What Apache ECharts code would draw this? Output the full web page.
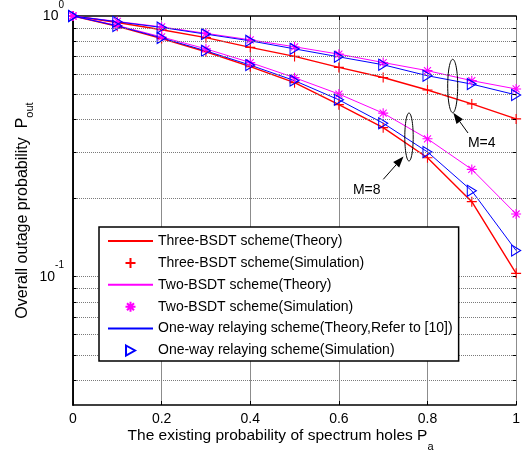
<!DOCTYPE html>
<html><head><meta charset="utf-8">
<script src="https://cdn.jsdelivr.net/npm/echarts@6/dist/echarts.min.js"></script>
<style>html,body{margin:0;padding:0;background:#fff}#c{width:523px;height:457px}</style>
</head><body><div id="c"></div>
<script>
const xValues = [0, 0.1, 0.2, 0.3, 0.4, 0.5, 0.6, 0.7, 0.8, 0.9, 1];
const threeBsdtM4 = [1, 0.944, 0.886, 0.826, 0.758, 0.700, 0.635, 0.581, 0.520, 0.460, 0.403];
const threeBsdtM8 = [1, 0.913, 0.819, 0.729, 0.639, 0.555, 0.457, 0.373, 0.286, 0.194, 0.103];
const twoBsdtM4 = [1, 0.953, 0.908, 0.858, 0.810, 0.762, 0.714, 0.663, 0.617, 0.565, 0.525];
const twoBsdtM8 = [1, 0.920, 0.831, 0.748, 0.663, 0.580, 0.502, 0.424, 0.338, 0.258, 0.174];
const oneWayM4 = [1, 0.950, 0.904, 0.852, 0.803, 0.748, 0.697, 0.650, 0.590, 0.548, 0.498];
const oneWayM8 = [1, 0.916, 0.824, 0.735, 0.648, 0.565, 0.477, 0.388, 0.301, 0.2135, 0.126];
const xTicks = [0, 0.2, 0.4, 0.6, 0.8, 1];
const yGridLines = [0.04, 0.05, 0.06, 0.07, 0.08, 0.09, 0.1, 0.2, 0.3, 0.4, 0.5, 0.6, 0.7, 0.8, 0.9];
const names = [
  'Three-BSDT scheme(Theory)',
  'Three-BSDT scheme(Simulation)',
  'Two-BSDT scheme(Theory)',
  'Two-BSDT scheme(Simulation)',
  'One-way relaying scheme(Theory,Refer to [10])',
  'One-way relaying scheme(Simulation)'
];
const FONT = "'Liberation Sans', Arial, sans-serif";
const RED = '#ff0000', MAG = '#ff00ff', BLUE = '#0000ff';
const PLUS = 'path://M5,0 L5,10 M0,5 L10,5';
const STAR = 'path://M5,0 L5,10 M0,5 L10,5 M1.5,1.5 L8.5,8.5 M8.5,1.5 L1.5,8.5';
const TRI = 'path://M0,0 L9,5 L0,10 Z';

function pairs(arr) { return xValues.map((x, i) => [x, arr[i]]); }
function theory(name, arr, color, w) {
  return { type: 'line', name, data: pairs(arr), symbol: 'none', lineStyle: { color, width: w }, itemStyle: { color }, z: 3, animation: false };
}
function sim(name, arr, color, symbol, size) {
  return { type: 'scatter', name, data: pairs(arr), symbol, symbolSize: size,
    itemStyle: { color: 'none', borderColor: color, borderWidth: 1.1, opacity: 1 }, z: 4, animation: false };
}
const tickPairs = [];
yGridLines.forEach(v => {
  tickPairs.push([{ coord: [0, v] }, { coord: [0.008, v] }]);
  tickPairs.push([{ coord: [0.992, v] }, { coord: [1, v] }]);
});

const series = [
  { type: 'line', name: '_grid', data: [], z: 1, animation: false,
    markLine: { silent: true, symbol: ['none', 'none'], label: { show: false }, animation: false,
      lineStyle: { color: '#7a7a7a', type: [1, 1], width: 1 },
      data: yGridLines.map(v => ({ yAxis: v })) } },
  { type: 'line', name: '_ticks', data: [], z: 5, animation: false,
    markLine: { silent: true, symbol: ['none', 'none'], label: { show: false }, animation: false,
      lineStyle: { color: '#000', type: 'solid', width: 1 }, data: tickPairs } },
  theory(names[0], threeBsdtM4, RED, 1.4),
  theory(names[0], threeBsdtM8, RED, 1.4),
  sim(names[1], threeBsdtM4, RED, PLUS, 10),
  sim(names[1], threeBsdtM8, RED, PLUS, 10),
  theory(names[2], twoBsdtM4, MAG, 1),
  theory(names[2], twoBsdtM8, MAG, 1),
  sim(names[3], twoBsdtM4, MAG, STAR, 10),
  sim(names[3], twoBsdtM8, MAG, STAR, 10),
  theory(names[4], oneWayM4, BLUE, 1),
  theory(names[4], oneWayM8, BLUE, 1),
  sim(names[5], oneWayM4, BLUE, TRI, [9, 11]),
  sim(names[5], oneWayM8, BLUE, TRI, [9, 11])
];

function arrow(x1, y1, x2, y2) {
  const dx = x2 - x1, dy = y2 - y1, L = Math.hypot(dx, dy), ux = dx / L, uy = dy / L;
  const hl = 11, hw = 4;
  const bx = x2 - hl * ux, by = y2 - hl * uy, nx = -uy, ny = ux;
  return [
    { type: 'line', shape: { x1, y1, x2: bx, y2: by }, style: { stroke: '#000', lineWidth: 1 }, z: 10 },
    { type: 'polygon', shape: { points: [[x2, y2], [bx + hw * nx, by + hw * ny], [bx - hw * nx, by - hw * ny]] }, style: { fill: '#000' }, z: 10 }
  ];
}

const chart = echarts.init(document.getElementById('c'), null, { renderer: 'canvas' });
chart.setOption({
  backgroundColor: '#fff',
  animation: false,
  textStyle: { fontFamily: FONT },
  grid: { left: 73, right: 3, top: 15, bottom: 51 },
  xAxis: [{
    type: 'value', min: 0, max: 1, interval: 0.2,
    name: '{n|The existing probability of spectrum holes P}{s|a}',
    nameLocation: 'middle', nameGap: 23, nameMoveOverlap: false,
    nameTextStyle: { padding: [0, 28, 0, 0], rich: {
      n: { fontSize: 15.5, fontFamily: FONT, color: '#000', lineHeight: 16, verticalAlign: 'top' },
      s: { fontSize: 11, fontFamily: FONT, color: '#000', lineHeight: 24, verticalAlign: 'bottom' } } },
    axisLine: { show: true, lineStyle: { color: '#000', width: 1.5 } },
    axisTick: { show: true, inside: true, length: 4, lineStyle: { color: '#000' } },
    axisLabel: { fontSize: 14, color: '#000', fontFamily: FONT, margin: 7,
      formatter: v => { const t = xTicks.find(k => Math.abs(k - v) < 1e-9); return t === undefined ? '' : String(t); } },
    splitLine: { show: true, lineStyle: { color: '#8c8c8c', width: 1 } }
  }, {
    type: 'value', min: 0, max: 1, interval: 0.2, position: 'top',
    axisLine: { show: true, lineStyle: { color: '#000', width: 1.5 } },
    axisTick: { show: true, inside: true, length: 4, lineStyle: { color: '#000' } },
    axisLabel: { show: false }, splitLine: { show: false }
  }],
  yAxis: [{
    type: 'log', logBase: 10, min: 0.0322, max: 1,
    name: '{n|Overall outage probability  P}{s|out}',
    nameLocation: 'middle', nameGap: 37.5, nameRotate: 90, nameMoveOverlap: false,
    nameTextStyle: { rich: {
      n: { fontSize: 16, fontFamily: FONT, color: '#000', lineHeight: 16, verticalAlign: 'top' },
      s: { fontSize: 11, fontFamily: FONT, color: '#000', lineHeight: 21, verticalAlign: 'bottom' } } },
    axisLine: { show: true, lineStyle: { color: '#000', width: 1.5 } },
    axisTick: { show: false },
    axisLabel: { margin: 9, fontSize: 14, color: '#000', fontFamily: FONT,
      formatter: v => Math.abs(v - 1) < 1e-9 ? '{b|10}{p|0}' : (Math.abs(v - 0.1) < 1e-9 ? '{b|10}{p|-1}' : ''),
      rich: {
        b: { fontSize: 14, fontFamily: FONT, color: '#000', lineHeight: 32, verticalAlign: 'middle' },
        p: { fontSize: 10, fontFamily: FONT, color: '#000', lineHeight: 10, verticalAlign: 'top' } } },
    splitLine: { show: false }
  }, {
    type: 'log', logBase: 10, min: 0.0322, max: 1, position: 'right',
    axisLine: { show: true, lineStyle: { color: '#000', width: 1.5 } },
    axisTick: { show: false }, axisLabel: { show: false }, splitLine: { show: false }
  }],
  legend: {
    data: [
      { name: names[0], itemStyle: { opacity: 0 } },
      { name: names[1] },
      { name: names[2], itemStyle: { opacity: 0 } },
      { name: names[3] },
      { name: names[4], itemStyle: { opacity: 0 } },
      { name: names[5] }
    ],
    orient: 'vertical', left: 99, top: 227,
    itemWidth: 45, itemHeight: 10, itemGap: 7.4,
    padding: [7, 6, 3, 8],
    borderColor: '#000', borderWidth: 1.5, backgroundColor: '#fff',
    textStyle: { fontSize: 14, color: '#000', fontFamily: FONT, lineHeight: 14 },
    selectedMode: false, z: 20
  },
  series,
  graphic: [
    { type: 'ellipse', shape: { cx: 452.7, cy: 86, rx: 5, ry: 26.7 }, style: { fill: 'none', stroke: '#000', lineWidth: 1 }, z: 10 },
    { type: 'ellipse', shape: { cx: 409, cy: 137, rx: 4.2, ry: 24 }, style: { fill: 'none', stroke: '#000', lineWidth: 1 }, z: 10 },
    ...arrow(468, 133, 453.3, 112.7),
    ...arrow(383.3, 179.3, 403.5, 156.5),
    { type: 'text', x: 481.7, y: 143.3, style: { text: 'M=4', font: '14px ' + FONT, fill: '#000', align: 'center', verticalAlign: 'middle' }, z: 10 },
    { type: 'text', x: 366.7, y: 190, style: { text: 'M=8', font: '14px ' + FONT, fill: '#000', align: 'center', verticalAlign: 'middle' }, z: 10 }
  ]
});
</script>
</body></html>
